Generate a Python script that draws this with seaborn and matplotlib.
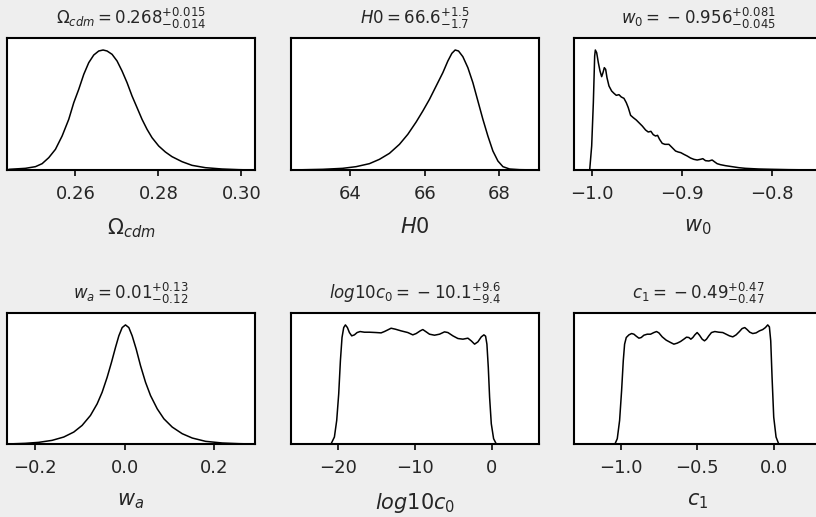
import numpy as np
import matplotlib
matplotlib.use("Agg")
import matplotlib.pyplot as plt
import seaborn as sns

sns.set_style("ticks")
plt.rcParams['font.family'] = ['DejaVu Sans']
plt.rcParams['mathtext.fontset'] = 'dejavusans'

# ---------------- data ----------------
om_x = [0.24394, 0.24795, 0.25036, 0.25197, 0.25357, 0.25518, 0.25679, 0.25839, 0.25960, 0.26080,
        0.26201, 0.26321, 0.26442, 0.26562, 0.26667, 0.26763, 0.26884, 0.27004, 0.27124, 0.27245,
        0.27365, 0.27486, 0.27606, 0.27727, 0.27847, 0.28008, 0.28169, 0.28329, 0.28570, 0.28811,
        0.29133, 0.29534, 0.29936, 0.30297]
om_y = [0.0056, 0.0139, 0.0278, 0.0528, 0.1028, 0.1722, 0.2833, 0.4222, 0.5611, 0.6722,
        0.7972, 0.8944, 0.9583, 0.9917, 1.0, 0.9917, 0.9639, 0.9083, 0.825, 0.7278,
        0.6167, 0.5194, 0.4222, 0.3389, 0.2694, 0.2, 0.15, 0.1111, 0.0694, 0.0389,
        0.0194, 0.0083, 0.0028, 0.0]

h0_x = [62.400, 63.254, 63.793, 64.153, 64.512, 64.782, 65.052, 65.321, 65.546, 65.771,
        65.951, 66.130, 66.310, 66.490, 66.625, 66.733, 66.822, 66.912, 67.029, 67.164,
        67.299, 67.434, 67.569, 67.703, 67.838, 67.973, 68.108, 68.288, 68.557, 69.079]
h0_y = [0, 0.0056, 0.0139, 0.0278, 0.0528, 0.0889, 0.1389, 0.2139, 0.2972, 0.4,
        0.4917, 0.5889, 0.7, 0.8111, 0.9083, 0.9722, 1.0, 0.9917, 0.9444, 0.8528,
        0.7278, 0.575, 0.4222, 0.2833, 0.1583, 0.075, 0.0278, 0.0083, 0.0028, 0]

w0_x = [-1.00221, -1.0, -0.99815, -0.99668, -0.99594, -0.99446, -0.99262, -0.99077, -0.98893,
        -0.98745, -0.98598, -0.98450, -0.98303, -0.98081, -0.97786, -0.97528, -0.97269, -0.96974,
        -0.96716, -0.96421, -0.96162, -0.95941, -0.95683, -0.95387, -0.95055, -0.94760, -0.94391,
        -0.94022, -0.93727, -0.93432, -0.93173, -0.92915, -0.92694, -0.92472, -0.92177, -0.91882,
        -0.91439, -0.91070, -0.90701, -0.90406, -0.90111, -0.89779, -0.89410, -0.89041, -0.88672,
        -0.88303, -0.87934, -0.87675, -0.87380, -0.87011, -0.86642, -0.86347, -0.86089, -0.85720,
        -0.85166, -0.84428, -0.83690, -0.82952, -0.81476, -0.80000, -0.78155, -0.74465]
w0_y = [0, 0.2, 0.5611, 0.95, 1.0, 0.9778, 0.8944, 0.825, 0.7778,
        0.8111, 0.8528, 0.8389, 0.7694, 0.7, 0.6583, 0.6389, 0.6222, 0.6278,
        0.6083, 0.5972, 0.5611, 0.5194, 0.4556, 0.4361, 0.4167, 0.3944, 0.3667,
        0.3333, 0.3167, 0.3222, 0.2944, 0.2833, 0.2889, 0.2556, 0.2222, 0.2139,
        0.2139, 0.1861, 0.1583, 0.15, 0.1444, 0.1306, 0.1167, 0.1, 0.0889,
        0.0833, 0.0889, 0.0944, 0.0778, 0.075, 0.0833, 0.0667, 0.0528, 0.0444,
        0.0361, 0.0278, 0.0194, 0.0139, 0.0083, 0.0056, 0.0028, 0]

wa_x = [-0.2632, -0.2221, -0.1921, -0.1622, -0.1361, -0.1136, -0.0950, -0.0763, -0.0613, -0.0501,
        -0.0389, -0.0292, -0.0202, -0.0127, -0.0052, 0.0022, 0.0097, 0.0172, 0.0262, 0.0359,
        0.0471, 0.0583, 0.0733, 0.0882, 0.1069, 0.1293, 0.1518, 0.1817, 0.2191, 0.2565, 0.2923]
wa_y = [0, 0.0056, 0.0139, 0.0306, 0.0585, 0.1003, 0.156, 0.2396, 0.337, 0.4345,
        0.5599, 0.6852, 0.8106, 0.9081, 0.9777, 1.0, 0.9777, 0.9081, 0.7967, 0.6574,
        0.5181, 0.4067, 0.2953, 0.2117, 0.1421, 0.0864, 0.0501, 0.0223, 0.0084, 0.0028, 0]

lc_x = [-26.07, -20.87, -20.43, -20.13, -19.87, -19.65, -19.44, -19.22, -19.00, -18.74,
        -18.48, -18.18, -17.83, -17.48, -17.09, -16.53, -15.88, -15.01, -14.36, -13.93,
        -13.49, -13.06, -12.49, -11.76, -10.89, -10.24, -9.80, -9.28, -8.94, -8.50,
        -8.07, -7.42, -6.77, -6.12, -5.68, -5.03, -4.38, -3.73, -3.08, -2.65,
        -2.21, -1.78, -1.34, -1.00, -0.78, -0.61, -0.43, -0.26, -0.04, 0.26, 0.61, 6.16]
lc_y = [0, 0, 0.0585, 0.1978, 0.4206, 0.6992, 0.8942, 0.9777, 1.0, 0.9777,
        0.9359, 0.9081, 0.9164, 0.9359, 0.9443, 0.9387, 0.9387, 0.9359, 0.9331, 0.9443,
        0.9582, 0.9721, 0.9638, 0.9499, 0.9359, 0.9164, 0.9276, 0.9499, 0.961, 0.9415,
        0.922, 0.9136, 0.922, 0.9415, 0.9359, 0.9081, 0.8858, 0.8802, 0.8886, 0.8663,
        0.8384, 0.8579, 0.8997, 0.9164, 0.9053, 0.8384, 0.6435, 0.3928, 0.1699, 0.0446, 0, 0]

c1_x = [-1.3037, -1.0369, -1.0217, -1.0065, -0.9935, -0.9826, -0.9740, -0.9631, -0.9458, -0.9284,
        -0.9132, -0.8980, -0.8807, -0.8655, -0.8482, -0.8265, -0.8048, -0.7831, -0.7657, -0.7505,
        -0.7289, -0.7028, -0.6746, -0.6529, -0.6312, -0.6095, -0.5879, -0.5705, -0.5553, -0.5423,
        -0.5293, -0.5163, -0.5011, -0.4859, -0.4685, -0.4534, -0.4403, -0.4252, -0.4078, -0.3861,
        -0.3601, -0.3341, -0.3124, -0.2907, -0.2690, -0.2473, -0.2256, -0.2082, -0.1909, -0.1757,
        -0.1584, -0.1388, -0.1171, -0.0954, -0.0738, -0.0564, -0.0412, -0.0304, -0.0217, -0.0130,
        -0.0022, 0.0130, 0.0304, 0.3124]
c1_y = [0, 0, 0.0446, 0.1978, 0.4485, 0.6992, 0.8384, 0.8942, 0.9164, 0.9276,
        0.922, 0.9053, 0.8886, 0.8942, 0.9136, 0.922, 0.922, 0.9359, 0.9443, 0.9331,
        0.8997, 0.8719, 0.8524, 0.8384, 0.8468, 0.8607, 0.8802, 0.8969, 0.8942, 0.8802,
        0.8942, 0.9164, 0.9359, 0.9136, 0.8802, 0.8663, 0.8802, 0.9081, 0.9359, 0.9443,
        0.9387, 0.9359, 0.922, 0.9081, 0.8997, 0.9164, 0.9443, 0.9694, 0.9777, 0.961,
        0.9387, 0.9276, 0.9331, 0.9499, 0.961, 0.9777, 1.0, 0.9833, 0.8663, 0.5599,
        0.2256, 0.0585, 0, 0]

titles = [r'$\Omega_{cdm} = 0.268^{+0.015}_{-0.014}$', r'$H0 = 66.6^{+1.5}_{-1.7}$',
          r'$w_0 =\:-\:0.956^{+0.081}_{-0.045}$', r'$w_a = 0.01^{+0.13}_{-0.12}$',
          r'$log10c_0 =\:-\:10.1^{+9.6}_{-9.4}$', r'$c_1 =\:-\:0.49^{+0.47}_{-0.47}$']
xlabels = [r'$\Omega_{cdm}$', r'$H0$', r'$w_0$', r'$w_a$', r'$log10c_0$', r'$c_1$']
xticks = [[0.26, 0.28, 0.30], [64, 66, 68], [-1.0, -0.9, -0.8],
          [-0.2, 0.0, 0.2], [-20, -10, 0], [-1.0, -0.5, 0.0]]
xticklabels = [['0.26', '0.28', '0.30'], ['64', '66', '68'], ['\u22121.0', '\u22120.9', '\u22120.8'],
               ['\u22120.2', '0.0', '0.2'], ['\u221220', '\u221210', '0'], ['\u22121.0', '\u22120.5', '0.0']]
curves = [(om_x, om_y), (h0_x, h0_y), (w0_x, w0_y), (wa_x, wa_y), (lc_x, lc_y), (c1_x, c1_y)]
xlims = [(0.2435, 0.3033), (62.40, 69.08), (-1.0196, -0.7446),
         (-0.2632, 0.2923), (-26.07, 6.16), (-1.3037, 0.3124)]

# ---------------- figure ----------------
W, H = 816, 517
fig = plt.figure(figsize=(W / 100, H / 100), dpi=100, facecolor='#eeeeee')

lefts = [7, 291, 574]
width = 248
rows = [(38, 170), (313, 444)]

for i, (cx, cy) in enumerate(curves):
    r, c = divmod(i, 3)
    top, bot = rows[r]
    ax = fig.add_axes([lefts[c] / W, 1 - bot / H, width / W, (bot - top) / H])
    ax.set_facecolor('white')
    sns.lineplot(x=cx, y=cy, ax=ax, color='black', linewidth=1.1)
    ax.set_xlim(*xlims[i])
    ax.set_ylim(0, 1.1)
    ax.set_yticks([])
    ax.set_xticks(xticks[i])
    ax.set_xticklabels(xticklabels[i])
    ax.tick_params(axis='x', direction='out', length=4.3, width=1.4, pad=6.5, labelsize=13)
    for s in ax.spines.values():
        s.set_visible(True)
        s.set_linewidth(1.5)
        s.set_color('black')
    ax.set_title(titles[i], fontsize=12, pad=10)
    ax.set_xlabel(xlabels[i], fontsize=15, labelpad=10)
    ax.set_ylabel('')

fig.savefig('out.png', dpi=100, facecolor=fig.get_facecolor())
